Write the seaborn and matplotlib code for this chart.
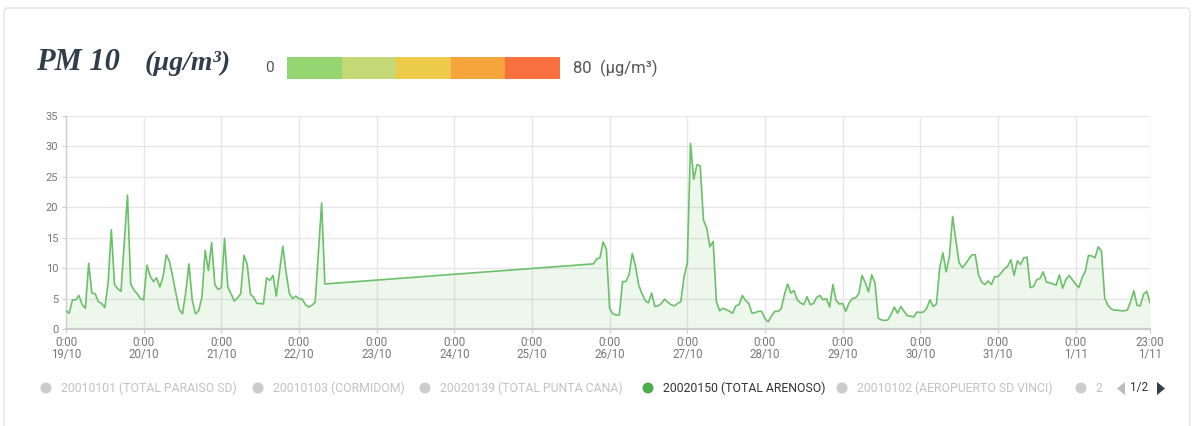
import matplotlib
matplotlib.use("Agg")
import numpy as np
import pandas as pd
import matplotlib.pyplot as plt
import seaborn as sns
from matplotlib.patches import Rectangle, Circle, Polygon, FancyBboxPatch

# ---------------- data ----------------
start_date = "2018-10-19 00:00"
end_hour = 335  # 1/11 23:00

hours_a = list(range(0, 81))
pm10_a = [3.0, 2.6, 4.8, 4.8, 5.5, 4.0, 3.4, 10.8, 5.9, 5.8,
          4.5, 4.2, 3.5, 7.5, 16.3, 7.3, 6.6, 6.2, 14.0, 22.0,
          7.4, 6.4, 5.8, 5.0, 4.8, 10.5, 8.7, 7.8, 8.4, 6.9,
          8.6, 12.2, 11.1, 8.5, 5.8, 3.2, 2.5, 6.0, 10.7, 4.8,
          2.5, 3.0, 5.2, 12.9, 9.6, 14.2, 7.3, 6.5, 6.8, 14.9,
          6.9, 5.8, 4.6, 5.1, 5.8, 12.1, 10.6, 5.7, 5.2, 4.2,
          4.2, 4.1, 8.4, 8.0, 8.8, 5.4, 9.5, 13.6, 9.4, 5.9,
          5.0, 5.4, 5.0, 4.9, 4.0, 3.6, 3.9, 4.4, 12.5, 20.7,
          7.4]

hours_b = list(range(163, 336))
pm10_b = [10.7, 11.5, 11.7, 14.3, 13.1, 3.4, 2.5, 2.3, 2.3, 7.8,
          7.8, 8.9, 12.4, 10.3, 7.2, 5.8, 4.7, 4.3, 5.9, 3.7,
          3.8, 4.2, 4.9, 4.4, 4.0, 3.8, 4.2, 4.5, 8.6, 10.8,
          30.5, 24.6, 27.0, 26.8, 17.9, 16.6, 13.5, 14.4, 4.5, 3.0,
          3.4, 3.2, 2.9, 2.6, 3.8, 4.0, 5.5, 4.7, 4.2, 2.6,
          2.7, 2.9, 2.9, 1.7, 1.2, 2.1, 2.9, 2.9, 3.3, 5.6,
          7.4, 5.9, 6.3, 4.8, 4.3, 4.0, 5.3, 4.0, 4.2, 5.2,
          5.5, 4.8, 5.0, 3.6, 7.3, 4.7, 4.1, 4.2, 2.9, 4.3,
          5.0, 5.1, 5.8, 8.8, 7.6, 6.1, 8.9, 7.6, 1.8, 1.5,
          1.4, 1.5, 2.4, 3.6, 2.6, 3.7, 2.9, 2.2, 2.1, 2.0,
          2.8, 2.7, 2.8, 3.4, 4.8, 3.7, 4.1, 10.0, 12.5, 9.4,
          11.9, 18.5, 14.6, 10.9, 10.1, 10.7, 11.5, 12.2, 12.2, 8.9,
          7.7, 7.3, 7.9, 7.3, 8.6, 8.6, 9.2, 9.9, 10.3, 11.4,
          8.8, 11.2, 10.6, 11.7, 11.8, 6.8, 7.0, 8.1, 8.3, 9.4,
          7.7, 7.6, 7.4, 7.2, 8.9, 6.7, 8.1, 8.8, 8.1, 7.4,
          6.8, 8.4, 9.5, 12.1, 12.0, 11.7, 13.5, 12.8, 5.1, 3.9,
          3.3, 3.1, 3.1, 3.0, 3.0, 3.1, 4.5, 6.3, 3.9, 3.8,
          5.7, 6.2, 4.3]

y_ticks = [0, 5, 10, 15, 20, 25, 30, 35]

scale_labels = ["0", "80  (µg/m³)"]
scale_colors = ["#96d672", "#c4d875", "#ecca4a", "#f5a53b", "#f6713f"]

legend_labels = ["20010101 (TOTAL PARAISO SD)", "20010103 (CORMIDOM)",
                 "20020139 (TOTAL PUNTA CANA)", "20020150 (TOTAL ARENOSO)",
                 "20010102 (AEROPUERTO SD VINCI)", "2"]
legend_active = [False, False, False, True, False, False]
title_main = "PM 10"
title_unit = "(µg/m³)"
page_text = "1/2"

# ---------------- figure ----------------
sns.set_theme(style="white")
plt.rcParams['font.family'] = ['Roboto', 'DejaVu Sans']

W, H = 1199, 426
fig = plt.figure(figsize=(W / 100, H / 100), dpi=100)

base = pd.Timestamp(start_date)
df = pd.DataFrame({
    "time": base + pd.to_timedelta(hours_a + hours_b, unit="h"),
    "pm10": pm10_a + pm10_b,
})
end_time = base + pd.Timedelta(hours=end_hour)

ax = fig.add_axes([66 / W, 97 / H, 1084 / W, 213 / H])
line_col = "#6cc06a"
sns.lineplot(data=df, x="time", y="pm10", ax=ax, color=line_col,
             linewidth=1.2, zorder=3)
ax.fill_between(df["time"], df["pm10"], color=line_col, alpha=0.12,
                linewidth=0, zorder=2)

ax.set_xlim(base, end_time)
ax.set_ylim(0, 35)
ax.set_yticks(y_ticks)
ax.set_yticklabels([str(v) for v in y_ticks])

tick_times = list(pd.date_range(base, end_time, freq="D")) + [end_time]
ax.set_xticks(tick_times)
ax.set_xticklabels([f"{t.hour}:{t.minute:02d}\n{t.day}/{t.month}" for t in tick_times],
                   linespacing=0.95)

ax.grid(True, color="#e6e6e6", linewidth=1.0, zorder=0)
ax.set_axisbelow(True)
ax.set_xlabel("")
ax.set_ylabel("")
for s in ["top", "right"]:
    ax.spines[s].set_visible(False)
ax.spines["left"].set_color("#cfcfcf")
ax.spines["left"].set_linewidth(1.0)
ax.spines["bottom"].set_color("#cccccc")
ax.spines["bottom"].set_linewidth(1.6)
ax.tick_params(axis="y", length=3, width=0.8, color="#cccccc", pad=2.5,
               labelsize=8, labelcolor="#777777", left=True)
ax.tick_params(axis="x", length=3, width=0.8, color="#cccccc", pad=2,
               labelsize=8.3, labelcolor="#777777", bottom=True)

# ---------------- overlay (pixel coords) ----------------
ov = fig.add_axes([0, 0, 1, 1], zorder=-1)
ov.set_xlim(0, W)
ov.set_ylim(H, 0)
ov.axis("off")
ov.add_patch(FancyBboxPatch((4, 8), 1186, 440, boxstyle="round,pad=0,rounding_size=4",
                            facecolor="white", edgecolor="#e3e3e3", linewidth=1.0))

ov2 = fig.add_axes([0, 0, 1, 1], zorder=5)
ov2.set_xlim(0, W)
ov2.set_ylim(H, 0)
ov2.axis("off")
ov2.patch.set_alpha(0)

serif = ["Liberation Serif", "DejaVu Serif"]
ov2.text(36, 70, title_main, fontsize=22, fontweight="bold", fontstyle="italic",
         family=serif, color="#2f3d4c", va="baseline")
ov2.text(145, 70, title_unit, fontsize=20, fontweight="bold", fontstyle="italic",
         family=serif, color="#2f3d4c", va="baseline")

x0, x1 = 287, 560
seg = (x1 - x0) / len(scale_colors)
for i, c in enumerate(scale_colors):
    ov2.add_patch(Rectangle((x0 + i * seg, 57), seg, 22, facecolor=c, edgecolor="none"))
ov2.text(274, 68, scale_labels[0], fontsize=11, color="#555555", ha="right", va="center")
ov2.text(573, 68, scale_labels[1], fontsize=12, color="#555555", ha="left", va="center")

leg_x = [46, 258, 425, 648, 842, 1081]
for lx, lab, act in zip(leg_x, legend_labels, legend_active):
    ov2.add_patch(Circle((lx, 388), 5.5, facecolor="#4cae4c" if act else "#cccccc",
                         edgecolor="none"))
    ov2.text(lx + 15, 388, lab, fontsize=8.8, color="#333333" if act else "#c2c2c2",
             ha="left", va="center")

ov2.add_patch(Polygon([[1125, 382], [1125, 395], [1117, 388.5]], closed=True,
                      facecolor="#bbbbbb", edgecolor="none"))
ov2.text(1130, 388, page_text, fontsize=8.5, color="#333333", ha="left", va="center")
ov2.add_patch(Polygon([[1157, 382], [1157, 395], [1165, 388.5]], closed=True,
                      facecolor="#2f3d4c", edgecolor="none"))

fig.savefig("out.png", dpi=100, facecolor="white")
